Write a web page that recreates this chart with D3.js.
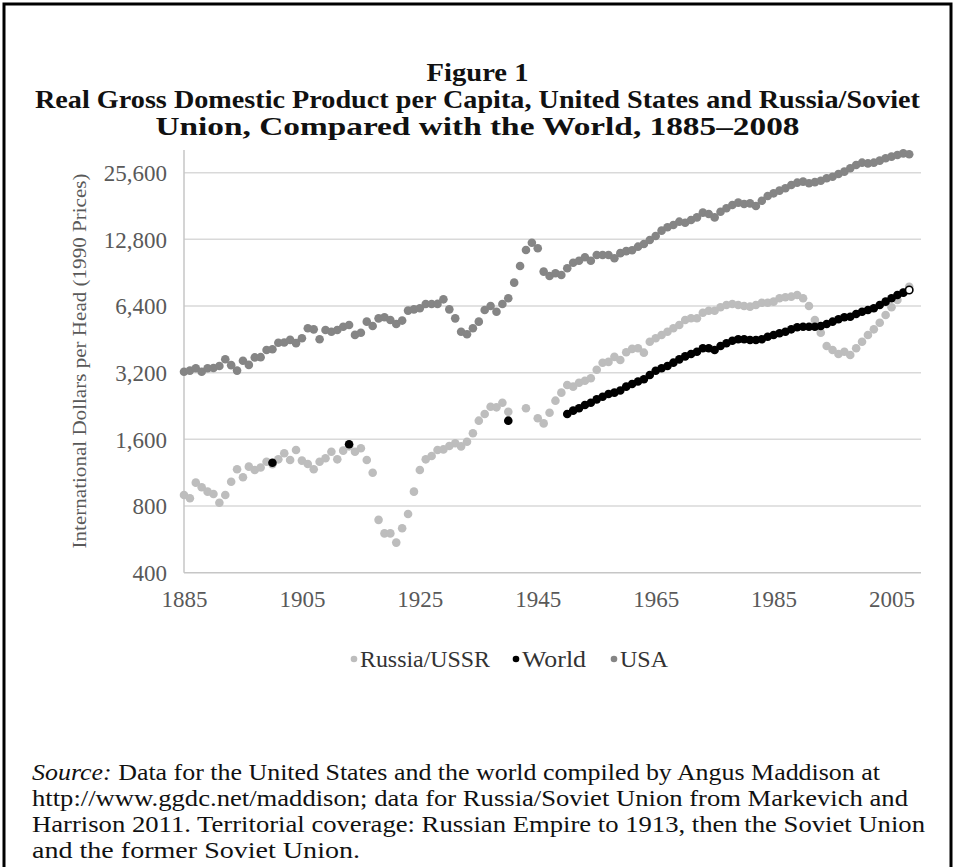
<!DOCTYPE html>
<html>
<head>
<meta charset="utf-8">
<script src="https://cdn.jsdelivr.net/npm/d3@7"></script>
<style>
  html, body { margin: 0; padding: 0; background: #fff; }
  svg { display: block; }
  text { font-family: "Liberation Serif", "Times New Roman", serif; }
</style>
</head>
<body>
<svg id="chart" width="955" height="867"></svg>
<script>
// ---------- DATA ----------
const titleLines = [
  "Figure 1",
  "Real Gross Domestic Product per Capita, United States and Russia/Soviet",
  "Union, Compared with the World, 1885\u20132008"
];
const yAxisTitle = "International Dollars per Head (1990 Prices)";
const yTicks = [400, 800, 1600, 3200, 6400, 12800, 25600];
const xTicks = [1885, 1905, 1925, 1945, 1965, 1985, 2005];
const seriesNames = ["Russia/USSR", "World", "USA"];

// USA, every year 1885..2008
const usaStartYear = 1885;
const usaValues = [
  3230, 3270, 3350, 3230, 3350,                                  // 1885-1889
  3360, 3430, 3680, 3460, 3270, 3620, 3470, 3750, 3760, 4050,    // 1890-1899
  4080, 4370, 4380, 4500, 4350, 4580, 5080, 5020, 4530, 4990,    // 1900-1909
  4900, 4990, 5160, 5250, 4740, 4850, 5440, 5200, 5630, 5690,    // 1910-1919
  5530, 5310, 5500, 6100, 6180, 6250, 6530, 6530, 6540, 6860,    // 1920-1929
  6180, 5630, 4900, 4770, 5080, 5440, 6140, 6400, 6030, 6530,    // 1930-1939
  6940, 8160, 9700, 11460, 12360, 11660, 9150, 8740, 8990, 8830, // 1940-1949
  9480, 10040, 10250, 10620, 10250, 10880, 10880, 10880, 10520, 11090, // 1950-1959
  11320, 11420, 11860, 12200, 12720, 13250, 14010, 14520, 14860, 15380, // 1960-1969
  15220, 15650, 16080, 16890, 16650, 16080, 17060, 17670, 18290, 18740, // 1970-1979
  18480, 18600, 18100, 19130, 20080, 20650, 21240, 21770, 22520, 23070, // 1980-1989
  23320, 22920, 23200, 23550, 24150, 24550, 25250, 25870, 26800, 27740, // 1990-1999
  28400, 28200, 28400, 29000, 29730, 30240, 30760, 31290, 31000         // 2000-2008
];

// Russia / USSR, every year 1885..2008 (null = no data)
const russiaStartYear = 1885;
const russiaValues = [
  897, 867, 1020, 972, 929,                                      // 1885-1889
  907, 828, 897, 1030, 1172, 1079, 1205, 1164, 1195, 1268,       // 1890-1899
  1237, 1300, 1385, 1291, 1433, 1283, 1238, 1172, 1268, 1314,    // 1900-1909
  1407, 1300, 1423, 1488, 1407, 1459, 1291, 1131, 693, 602,      // 1910-1919
  602, 547, 635, 736, 929, 1164, 1300, 1346, 1433, 1441,         // 1920-1929
  1493, 1536, 1487, 1561, 1705, 1943, 2083, 2247, 2232, 2342,    // 1930-1939
  2133, null, null, 2210, null, 1992, 1889, 2111, 2392, 2600,    // 1940-1949
  2815, 2767, 2884, 2944, 3019, 3300, 3550, 3580, 3770, 3652,    // 1950-1959
  3960, 4100, 4124, 3940, 4416, 4576, 4735, 4900, 5077, 5253,    // 1960-1969
  5533, 5633, 5633, 5971, 6096, 6096, 6313, 6467, 6535, 6467,    // 1970-1979
  6400, 6356, 6467, 6625, 6625, 6696, 6936, 7005, 7052, 7176,    // 1980-1989
  6936, 6400, 5533, 4850, 4224, 4050, 3888, 3980, 3845, 4124,    // 1990-1999
  4416, 4735, 5022, 5380, 5830, 6313, 6812, 7353, 7823           // 2000-2008
];

// World (benchmark years, then annual from 1950)
const worldYears = [1900, 1913, 1940,
  1950, 1951, 1952, 1953, 1954, 1955, 1956, 1957, 1958, 1959,
  1960, 1961, 1962, 1963, 1964, 1965, 1966, 1967, 1968, 1969,
  1970, 1971, 1972, 1973, 1974, 1975, 1976, 1977, 1978, 1979,
  1980, 1981, 1982, 1983, 1984, 1985, 1986, 1987, 1988, 1989,
  1990, 1991, 1992, 1993, 1994, 1995, 1996, 1997, 1998, 1999,
  2000, 2001, 2002, 2003, 2004, 2005, 2006, 2007, 2008];
const worldValues = [1255, 1520, 1943,
  2083, 2156, 2210, 2286, 2342, 2425, 2492, 2565, 2600, 2660,
  2767, 2845, 2918, 2990, 3124, 3267, 3350, 3430, 3551, 3675,
  3790, 3888, 3980, 4124, 4124, 4050, 4224, 4346, 4460, 4528,
  4528, 4496, 4496, 4528, 4650, 4735, 4820, 4900, 5022, 5130,
  5160, 5160, 5160, 5200, 5308, 5438, 5573, 5692, 5728, 5888,
  6032, 6140, 6250, 6467, 6696, 6936, 7176, 7353, 7560];

const sourceLines = [
  [["Source:", true], [" Data for the United States and the world compiled by Angus Maddison at", false]],
  [["http://www.ggdc.net/maddison; data for Russia/Soviet Union from Markevich and", false]],
  [["Harrison 2011. Territorial coverage: Russian Empire to 1913, then the Soviet Union", false]],
  [["and the former Soviet Union.", false]]
];

// ---------- BUILD TABLES ----------
const usa = usaValues.map((v, i) => ({year: usaStartYear + i, value: v}));
const russia = russiaValues.map((v, i) => ({year: russiaStartYear + i, value: v})).filter(d => d.value != null);
const world = worldYears.map((y, i) => ({year: y, value: worldValues[i]}));

// ---------- LAYOUT ----------
const svg = d3.select("#chart");
const plot = {left: 184, right: 921, top: 150, bottom: 572.7};
const colors = {russia: "#bdbdbd", world: "#000000", usa: "#858585"};

// frame
svg.append("rect").attr("x", 4).attr("y", 4).attr("width", 947).attr("height", 900)
  .attr("fill", "none").attr("stroke", "#000").attr("stroke-width", 3);

// titles
const titleY = [81, 108, 135];
const titleLen = [102, 885, 644];
titleLines.forEach((t, i) => {
  svg.append("text")
    .attr("x", 477.5).attr("y", titleY[i])
    .attr("text-anchor", "middle")
    .attr("font-size", 26).attr("font-weight", "bold").attr("fill", "#111")
    .attr("textLength", titleLen[i]).attr("lengthAdjust", "spacingAndGlyphs")
    .text(t);
});

// scales
const x = d3.scaleLinear().domain([1885, 2010]).range([plot.left, plot.right]);
const y = d3.scaleLog().base(2).domain([400, 32400]).range([plot.bottom, plot.top]);

// gridlines
svg.append("g").selectAll("line").data(yTicks.filter(v => v > 400)).join("line")
  .attr("x1", plot.left).attr("x2", plot.right)
  .attr("y1", d => y(d)).attr("y2", d => y(d))
  .attr("stroke", "#d9d9d9").attr("stroke-width", 1.5);

// axis lines
svg.append("line").attr("x1", plot.left).attr("x2", plot.left)
  .attr("y1", plot.top).attr("y2", plot.bottom)
  .attr("stroke", "#c6c6c6").attr("stroke-width", 1.5);
svg.append("line").attr("x1", plot.left).attr("x2", plot.right)
  .attr("y1", plot.bottom).attr("y2", plot.bottom)
  .attr("stroke", "#c6c6c6").attr("stroke-width", 1.5);

// y axis labels
const yAxis = d3.axisLeft(y).tickValues(yTicks).tickSize(0).tickPadding(0)
  .tickFormat(d3.format(","));
const gy = svg.append("g").attr("transform", `translate(${plot.left - 17},0)`).call(yAxis);
gy.select(".domain").remove();
gy.selectAll("text").attr("font-family", "Liberation Serif, serif")
  .attr("font-size", 23).attr("fill", "#595959").attr("dy", "0.34em");

// x axis labels
const xAxis = d3.axisBottom(x).tickValues(xTicks).tickSize(0).tickPadding(0)
  .tickFormat(d3.format("d"));
const gx = svg.append("g").attr("transform", `translate(0,${plot.bottom + 18})`).call(xAxis);
gx.select(".domain").remove();
gx.selectAll("text").attr("font-family", "Liberation Serif, serif")
  .attr("font-size", 23).attr("fill", "#595959").attr("dy", "0.71em");

// y axis title
svg.append("text")
  .attr("transform", "translate(86,361) rotate(-90)")
  .attr("text-anchor", "middle")
  .attr("font-size", 18).attr("fill", "#595959")
  .attr("textLength", 375).attr("lengthAdjust", "spacingAndGlyphs")
  .text(yAxisTitle);

// series
const r = 4.3;
function drawSeries(data, color) {
  svg.append("g").selectAll("circle").data(data).join("circle")
    .attr("cx", d => x(d.year)).attr("cy", d => y(d.value))
    .attr("r", r).attr("fill", color);
}
drawSeries(russia, colors.russia);
drawSeries(world.slice(0, world.length - 1), colors.world);
const lastW = world[world.length - 1];
svg.append("circle").attr("cx", x(lastW.year)).attr("cy", y(lastW.value))
  .attr("r", r - 0.6).attr("fill", "#fff").attr("stroke", "#000").attr("stroke-width", 1.6);
drawSeries(usa, colors.usa);

// legend
const legendItems = [
  {name: seriesNames[0], color: colors.russia, mx: 354, tx: 360, len: 130},
  {name: seriesNames[1], color: colors.world, mx: 516, tx: 522, len: 64},
  {name: seriesNames[2], color: colors.usa, mx: 614, tx: 620, len: 48}
];
const lg = svg.append("g");
legendItems.forEach(it => {
  lg.append("circle").attr("cx", it.mx).attr("cy", 659).attr("r", 3.3).attr("fill", it.color);
  lg.append("text").attr("x", it.tx).attr("y", 667)
    .attr("font-size", 23).attr("fill", "#333")
    .attr("textLength", it.len).attr("lengthAdjust", "spacingAndGlyphs")
    .text(it.name);
});

// source note
const srcY = [780, 806, 832, 858];
const srcLen = [848, 876, 893, 328];
sourceLines.forEach((parts, i) => {
  const t = svg.append("text").attr("x", 32).attr("y", srcY[i])
    .attr("font-size", 23).attr("fill", "#111")
    .attr("textLength", srcLen[i]).attr("lengthAdjust", "spacingAndGlyphs");
  parts.forEach(([s, it]) => {
    t.append("tspan").attr("font-style", it ? "italic" : "normal").text(s);
  });
});
</script>
</body>
</html>
